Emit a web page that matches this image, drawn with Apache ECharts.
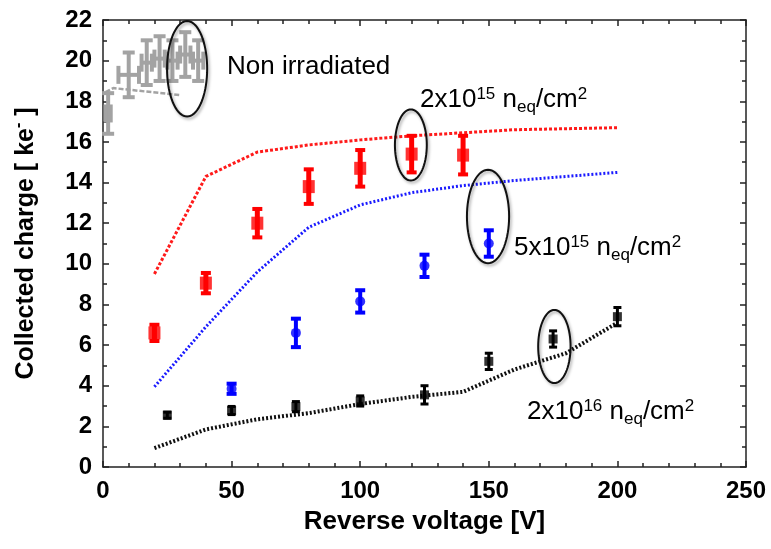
<!DOCTYPE html>
<html><head><meta charset="utf-8">
<script src="https://cdn.jsdelivr.net/npm/echarts@6/dist/echarts.min.js"></script>
<style>html,body{margin:0;padding:0;background:#fff}#c{width:771px;height:549px}</style>
</head><body><div id="c"></div>
<script>
// ---- axis ticks ----
const xTickValues = [0, 50, 100, 150, 200, 250];
const yTickValues = [0, 2, 4, 6, 8, 10, 12, 14, 16, 18, 20, 22];

// ---- Non irradiated (gray) ----
const grayX = [2, 10, 17, 22, 27, 32, 37];
const grayY = [17.4, 19.3, 19.9, 20.1, 20.0, 20.3, 20.0];
const grayXErr = [1, 4, 2, 2, 2, 2, 2];
const grayYErr = [1.0, 1.1, 1.1, 1.1, 1.0, 1.1, 1.0];
const grayLineX = [1, 4, 30];
const grayLineY = [18.45, 18.65, 18.3];

// ---- 2x10^15 (red) ----
const redX = [20, 40, 60, 80, 100, 120, 140];
const redY = [6.6, 9.05, 12.0, 13.8, 14.7, 15.4, 15.35];
const redErr = [0.4, 0.5, 0.7, 0.85, 0.9, 0.9, 0.95];
const redLineX = [20, 40, 60, 80, 100, 120, 140, 160, 180, 200];
const redLineY = [9.5, 14.3, 15.5, 15.85, 16.1, 16.3, 16.45, 16.6, 16.65, 16.7];

// ---- 5x10^15 (blue) ----
const blueX = [50, 75, 100, 125, 150];
const blueY = [3.85, 6.6, 8.15, 9.9, 11.0];
const blueErr = [0.25, 0.7, 0.55, 0.55, 0.65];
const blueLineX = [20, 40, 60, 80, 100, 120, 140, 160, 180, 200];
const blueLineY = [3.95, 6.9, 9.6, 11.8, 12.9, 13.5, 13.85, 14.1, 14.3, 14.5];

// ---- 2x10^16 (black) ----
const blackX = [25, 50, 75, 100, 125, 150, 175, 200];
const blackY = [2.55, 2.78, 2.97, 3.25, 3.55, 5.2, 6.3, 7.4];
const blackErr = [0.15, 0.2, 0.25, 0.25, 0.45, 0.4, 0.4, 0.45];
const blackLineX = [20, 40, 60, 80, 100, 120, 140, 160, 180, 200];
const blackLineY = [0.93, 1.85, 2.35, 2.65, 3.1, 3.45, 3.7, 4.8, 5.6, 7.1];

// ---- annotation ellipses: centre x, centre y, half-width (V), half-height (ke) ----
const ellCx = [32.7, 119.7, 149.7, 175.5];
const ellCy = [19.6, 15.85, 12.33, 5.93];
const ellRx = [7.8, 6.2, 8.2, 6.3];
const ellRy = [2.35, 1.75, 2.3, 1.8];

const zip = (a, b) => a.map((v, i) => [v, b[i]]);
const zip3 = (a, b, c) => a.map((v, i) => [v, b[i], c[i]]);

const FONT = '"Liberation Sans", Arial, sans-serif';
const AX = '#222';

function errBar(color, barW, capHalf, capW) {
  return function (params, api) {
    const x = api.value(0), y = api.value(1), e = api.value(2);
    const t = api.coord([x, y + e]), b = api.coord([x, y - e]);
    const st = { stroke: color, lineWidth: barW };
    const cs = { stroke: color, lineWidth: capW };
    return { type: 'group', children: [
      { type: 'line', shape: { x1: t[0], y1: t[1], x2: b[0], y2: b[1] }, style: st },
      { type: 'line', shape: { x1: t[0] - capHalf, y1: t[1], x2: t[0] + capHalf, y2: t[1] }, style: cs },
      { type: 'line', shape: { x1: b[0] - capHalf, y1: b[1], x2: b[0] + capHalf, y2: b[1] }, style: cs }
    ]};
  };
}

function grayBar(params, api) {
  const x = api.value(0), y = api.value(1), ex = api.value(2), ey = api.value(3);
  const c = api.coord([x, y]);
  const t = api.coord([x, y + ey]), b = api.coord([x, y - ey]);
  const l = api.coord([x - ex, y]), r = api.coord([x + ex, y]);
  const col = '#a3a3a3';
  const s = { stroke: col, lineWidth: 4 };
  const capH = 6, capV = 9;
  return { type: 'group', children: [
    { type: 'line', shape: { x1: t[0], y1: t[1], x2: b[0], y2: b[1] }, style: s },
    { type: 'line', shape: { x1: t[0] - capH, y1: t[1], x2: t[0] + capH, y2: t[1] }, style: s },
    { type: 'line', shape: { x1: b[0] - capH, y1: b[1], x2: b[0] + capH, y2: b[1] }, style: s },
    { type: 'line', shape: { x1: l[0], y1: c[1], x2: r[0], y2: c[1] }, style: s },
    { type: 'line', shape: { x1: l[0], y1: c[1] - capV, x2: l[0], y2: c[1] + capV }, style: s },
    { type: 'line', shape: { x1: r[0], y1: c[1] - capV, x2: r[0], y2: c[1] + capV }, style: s }
  ]};
}

function ellipse(params, api) {
  const cx = api.value(0), cy = api.value(1), rx = api.value(2), ry = api.value(3);
  const c = api.coord([cx, cy]);
  const p = api.coord([cx + rx, cy + ry]);
  const prx = Math.abs(p[0] - c[0]), pry = Math.abs(p[1] - c[1]);
  const pts = [];
  for (let i = 0; i < 72; i++) {
    const a = i / 72 * Math.PI * 2;
    pts.push([c[0] + prx * Math.cos(a), c[1] + pry * Math.sin(a)]);
  }
  return { type: 'polygon', shape: { points: pts },
    style: { fill: 'none', stroke: '#111', lineWidth: 2,
      shadowBlur: 3, shadowColor: 'rgba(0,0,0,0.35)', shadowOffsetX: 1.5, shadowOffsetY: 2 } };
}

const axisCommon = {
  axisLine: { show: true, onZero: false, lineStyle: { color: AX, width: 1.5 } },
  axisTick: { show: true, inside: true, length: 6, lineStyle: { color: AX, width: 1.5 } },
  splitLine: { show: false }
};

const labelFont = { color: '#000', fontFamily: FONT, fontWeight: 'bold', fontSize: 24 };

const chart = echarts.init(document.getElementById('c'), null, { renderer: 'canvas' });
chart.setOption({
  animation: false,
  backgroundColor: '#fff',
  grid: { left: 103, right: 25, top: 20, bottom: 82, containLabel: false },
  xAxis: [
    Object.assign({}, axisCommon, {
      type: 'value', min: xTickValues[0], max: xTickValues[xTickValues.length - 1], interval: 50,
      minorTick: { show: true, splitNumber: 5, length: 4, lineStyle: { color: AX, width: 1.5 } },
      axisLabel: Object.assign({ margin: 12 }, labelFont),
      name: 'Reverse voltage [V]', nameLocation: 'middle', nameGap: 42,
      nameTextStyle: { color: '#000', fontFamily: FONT, fontWeight: 'bold', fontSize: 26 }
    }),
    Object.assign({}, axisCommon, {
      type: 'value', position: 'top', min: 0, max: 250, interval: 50,
      minorTick: { show: true, splitNumber: 5, length: 4, lineStyle: { color: AX, width: 1.5 } },
      axisLabel: { show: false }
    })
  ],
  yAxis: [
    Object.assign({}, axisCommon, {
      type: 'value', min: yTickValues[0], max: yTickValues[yTickValues.length - 1], interval: 2,
      minorTick: { show: true, splitNumber: 2, length: 4, lineStyle: { color: AX, width: 1.5 } },
      axisLabel: Object.assign({ margin: 11 }, labelFont),
      name: '{t|Collected charge [ ke}{s|-}{t| ]}', nameLocation: 'middle', nameGap: 62, nameRotate: 90,
      nameTextStyle: { rich: {
        t: { color: '#000', fontFamily: FONT, fontWeight: 'bold', fontSize: 25 },
        s: { color: '#000', fontFamily: FONT, fontWeight: 'bold', fontSize: 16, padding: [0, 0, 14, 0] }
      } }
    }),
    Object.assign({}, axisCommon, {
      type: 'value', position: 'right', min: 0, max: 22, interval: 2,
      minorTick: { show: true, splitNumber: 2, length: 4, lineStyle: { color: AX, width: 1.5 } },
      axisLabel: { show: false }
    })
  ],
  series: [
    { type: 'line', data: zip(grayLineX, grayLineY), symbol: 'none', z: 2,
      lineStyle: { color: '#a3a3a3', width: 2.5, type: [5, 2] } },
    { type: 'line', data: zip(redLineX, redLineY), symbol: 'none', z: 2,
      lineStyle: { color: '#ff1a1a', width: 3, type: [3, 2] } },
    { type: 'line', data: zip(blueLineX, blueLineY), symbol: 'none', z: 2,
      lineStyle: { color: '#1a1aff', width: 3, type: [2, 2] } },
    { type: 'line', data: zip(blackLineX, blackLineY), symbol: 'none', z: 2,
      lineStyle: { color: '#111', width: 4, type: [2, 2] } },
    { type: 'custom', renderItem: grayBar, z: 3,
      data: grayX.map((v, i) => [v, grayY[i], grayXErr[i], grayYErr[i]]) },
    { type: 'custom', renderItem: errBar('#ff0000', 5, 5, 4), z: 3, data: zip3(redX, redY, redErr) },
    { type: 'custom', renderItem: errBar('#0000ff', 4, 5, 4), z: 3, data: zip3(blueX, blueY, blueErr) },
    { type: 'custom', renderItem: errBar('#000', 3, 4, 3), z: 3, data: zip3(blackX, blackY, blackErr) },
    { type: 'scatter', data: zip(redX, redY), symbol: 'rect', symbolSize: [12, 13], z: 4,
      itemStyle: { color: '#ff0000' } },
    { type: 'scatter', data: zip(blueX, blueY), symbol: 'circle', symbolSize: 10, z: 4,
      itemStyle: { color: '#0000ff' } },
    { type: 'scatter', data: zip(blackX, blackY), symbol: 'rect', symbolSize: 9, z: 4,
      itemStyle: { color: '#000' } },
    { type: 'custom', renderItem: ellipse, z: 5,
      data: ellCx.map((v, i) => [v, ellCy[i], ellRx[i], ellRy[i]]) }
  ],
  graphic: [
    { type: 'text', x: 227, y: 67, z: 10, style: { text: 'Non irradiated', fill: '#000',
      font: '26px ' + FONT, verticalAlign: 'middle', align: 'left' } },
    ...[[420, 100, '2x10', '15'], [514, 248, '5x10', '15'], [527, 412, '2x10', '16']].map(d => ({
      type: 'text', x: d[0], y: d[1], z: 10,
      style: {
        text: '{a|' + d[2] + '}{p|' + d[3] + '}{a| n}{b|eq}{a|/cm}{p|2}',
        verticalAlign: 'middle', align: 'left',
        rich: {
          a: { fill: '#000', fontFamily: FONT, fontSize: 26 },
          p: { fill: '#000', fontFamily: FONT, fontSize: 17, padding: [0, 0, 12, 0] },
          b: { fill: '#000', fontFamily: FONT, fontSize: 17, padding: [14, 0, 0, 0] }
        }
      }
    }))
  ]
});
</script>
</body></html>
